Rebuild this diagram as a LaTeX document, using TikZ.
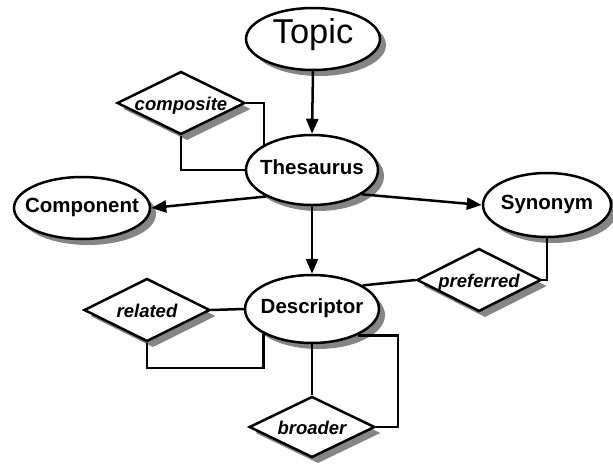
\documentclass[tikz,border=0pt]{standalone}
\usepackage{fontspec}
\setmainfont{Liberation Sans}
\usetikzlibrary{shapes.geometric,shadows,arrows.meta}
% label that does not widen its node
\newcommand\ctrtext[1]{\makebox[0pt]{#1}}

\begin{document}
\begin{tikzpicture}[x=1pt,y=-1pt,
  base/.style={draw,fill=white,line width=2.5pt,
    drop shadow={shadow xshift=6pt,shadow yshift=-6pt,fill=black!48,opacity=1}},
  entity/.style={base,ellipse,inner sep=0pt,text height=1.95ex,text depth=0.2ex,
    font=\fontsize{20.5}{24}\selectfont\bfseries},
  % the diamond takes its size from the inner ysep and the aspect
  relation/.style={base,diamond,inner xsep=0pt,inner ysep=22.5pt,
    text height=16pt,text depth=2pt,
    font=\fontsize{18.5}{22}\selectfont\bfseries\itshape},
  link/.style={line width=2.5pt},
  arrow/.style={link,-{Triangle[length=15pt,width=12pt]}}]

\useasboundingbox (0,0) rectangle (613,466);

% entities
\node[entity,minimum width=134pt,minimum height=62pt,
      font=\fontsize{34.5}{40}\selectfont] (topic) at (313,39) {\ctrtext{Topic}};
\node[entity,minimum width=132pt,minimum height=70pt] (thes) at (312,170) {\ctrtext{Thesaurus}};
\node[entity,minimum width=136pt,minimum height=62pt] (comp) at (82,208) {\ctrtext{Component}};
\node[entity,minimum width=128pt,minimum height=64pt] (syn) at (547,205) {\ctrtext{Synonym}};
\node[entity,minimum width=134pt,minimum height=68pt] (desc) at (312,309) {\ctrtext{Descriptor}};

% relationships
\node[relation,shape aspect=2.03] (composite) at (181,103) {\ctrtext{composite}};
\node[relation,shape aspect=2.0] (related) at (147,310) {\ctrtext{related}};
\node[relation,shape aspect=2.06,inner ysep=21.5pt] (broader) at (312,427) {\ctrtext{broader}};
\node[relation,shape aspect=1.97] (preferred) at (479,280) {\ctrtext{preferred}};

% arrows
\draw[arrow] (topic.south) -- (thes.north);
\draw[arrow] (thes.210) -- (comp.east);
\draw[arrow] (thes.-26) -- (syn.west);
\draw[arrow] (thes.south) -- (desc.north);

% relationship links
\draw[link] (composite.east) -| (thes.152);
\draw[link] (composite.south) |- (thes.west);
\draw[link] (related.east) -- (desc.west);
\draw[link] (related.south) -- ++(0,25) -| (desc.207);
\draw[link] (desc.south) -- (broader.north);
\draw[link] (broader.east) -- ++(22,0) |- (desc.-30);
\draw[link] (desc.25) -- (preferred.west);
\draw[link] (syn.south) |- (preferred.east);
\end{tikzpicture}
\end{document}
